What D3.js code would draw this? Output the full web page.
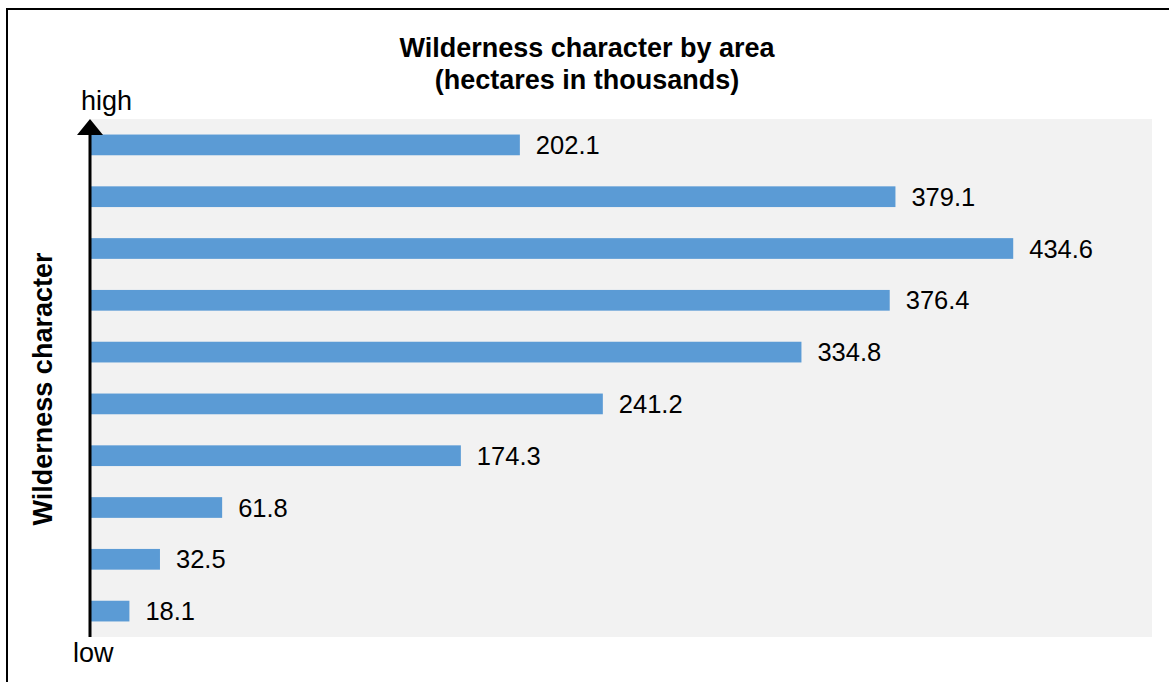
<!DOCTYPE html>
<html><head><meta charset="utf-8">
<script src="https://cdn.jsdelivr.net/npm/d3@7"></script>
<style>html,body{margin:0;padding:0;background:#fff;overflow:hidden}svg{display:block}</style>
</head><body>
<script>
const categories = ["10","9","8","7","6","5","4","3","2","1"];
const values = [202.1, 379.1, 434.6, 376.4, 334.8, 241.2, 174.3, 61.8, 32.5, 18.1];
const titleLines = ["Wilderness character by area", "(hectares in thousands)"];
const yTitle = "Wilderness character";
const highLabel = "high", lowLabel = "low";

const W = 1169, H = 682;
const svg = d3.select("body").append("svg").attr("width", W).attr("height", H);
const font = "Arial, 'Liberation Sans', sans-serif";

// frame
svg.append("rect").attr("x", 7).attr("y", 9).attr("width", 1200).attr("height", 700)
  .attr("fill", "none").attr("stroke", "#000").attr("stroke-width", 2);

const plot = {l: 91, r: 1152, t: 119, b: 637};
svg.append("rect").attr("x", plot.l).attr("y", plot.t).attr("width", plot.r - plot.l)
  .attr("height", plot.b - plot.t).attr("fill", "#f2f2f2");

const x = d3.scaleLinear().domain([0, 500]).range([plot.l, plot.r]);
const y = d3.scaleBand().domain(categories).range([plot.t, plot.b]).paddingInner(0.6).paddingOuter(0.3);

svg.selectAll("rect.bar").data(values).join("rect").attr("class", "bar")
  .attr("x", x(0)).attr("y", (d, i) => y(categories[i]))
  .attr("width", d => x(d) - x(0)).attr("height", y.bandwidth())
  .attr("fill", "#5b9bd5");

svg.selectAll("text.lab").data(values).join("text").attr("class", "lab")
  .attr("x", d => x(d) + 16).attr("y", (d, i) => y(categories[i]) + y.bandwidth() / 2)
  .attr("dy", "0.36em").attr("font-family", font).attr("font-size", 25.5)
  .attr("fill", "#000").text(d => d.toFixed(1));

// axis arrow
svg.append("line").attr("x1", 90).attr("x2", 90).attr("y1", plot.b).attr("y2", 132)
  .attr("stroke", "#000").attr("stroke-width", 3);
svg.append("path").attr("d", "M90,119 L103,135 L77,135 Z").attr("fill", "#000");

svg.append("text").attr("x", 81).attr("y", 110).attr("font-family", font).attr("font-size", 27).text(highLabel);
svg.append("text").attr("x", 73).attr("y", 662).attr("font-family", font).attr("font-size", 27).text(lowLabel);

const t = svg.append("text").attr("text-anchor", "middle").attr("font-family", font)
  .attr("font-size", 27).attr("font-weight", "bold");
titleLines.forEach((s, i) => t.append("tspan").attr("x", 587).attr("y", 57 + i * 32).text(s));

svg.append("text").attr("transform", "translate(52,389) rotate(-90)")
  .attr("text-anchor", "middle").attr("font-family", font).attr("font-size", 27)
  .attr("font-weight", "bold").text(yTitle);
</script>
</body></html>
